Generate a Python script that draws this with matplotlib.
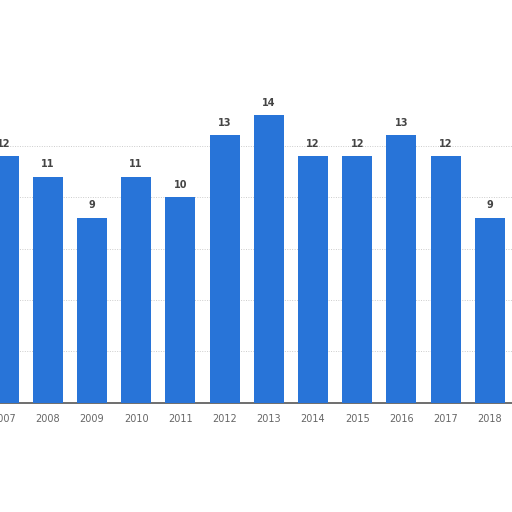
import matplotlib.pyplot as plt
import numpy as np

years = ["2007", "2008", "2009", "2010", "2011", "2012",
         "2013", "2014", "2015", "2016", "2017", "2018"]
values = [12, 11, 9, 11, 10, 13, 14, 12, 12, 13, 12, 9]

fig = plt.figure(figsize=(5.12, 5.12), dpi=100)
ax = fig.add_axes([0, 0.213, 1, 0.603])

x = np.arange(len(years))
ax.bar(x, values, width=0.68, color="#2874d8", zorder=3)

for xi, v in zip(x, values):
    ax.text(xi, v + 0.35, str(v), ha="center", va="bottom",
            fontsize=7, fontweight="bold", color="#444444")

ax.set_xlim(-0.08, 11.5)
ax.set_ylim(0, 15)
ax.set_yticks([2.5, 5, 7.5, 10, 12.5])
ax.yaxis.grid(True, linestyle=(0, (1, 1.5)), color="#cccccc", linewidth=0.7, zorder=0)
ax.set_xticks(x)
ax.set_xticklabels(years, fontsize=7, color="#666666")
ax.tick_params(axis="x", length=0, pad=8)
ax.tick_params(axis="y", length=0, labelleft=False)

for s in ["top", "right", "left"]:
    ax.spines[s].set_visible(False)
ax.spines["bottom"].set_color("#555555")
ax.spines["bottom"].set_linewidth(1.2)

fig.savefig("out.png", dpi=100)
